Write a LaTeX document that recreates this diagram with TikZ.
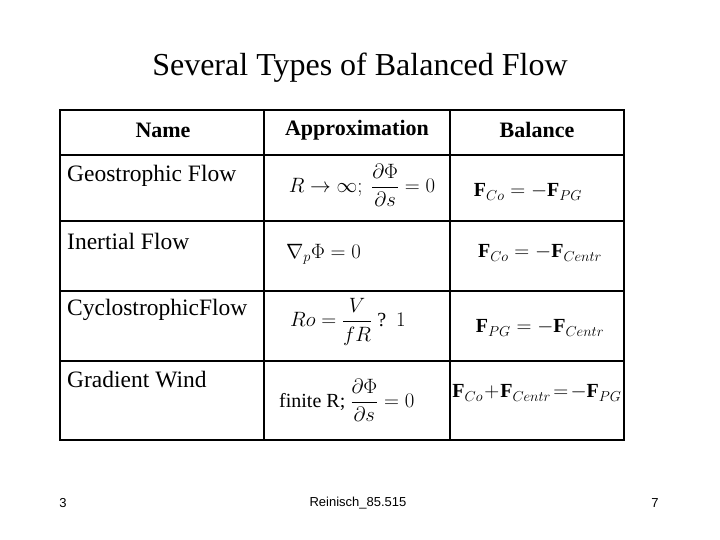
\documentclass[tikz,border=0pt]{standalone}
\usepackage{amsmath}
\usepackage{fontspec}
\setmainfont{Liberation Serif}
\newfontfamily\footf{Liberation Sans}
\begin{document}
\begin{tikzpicture}[x=1pt,y=-1pt,
  cell/.style={font=\fontsize{23.5}{26}\selectfont,inner sep=0pt},
  hdr/.style={font=\bfseries\fontsize{22}{26}\selectfont,inner sep=0pt},
  frm/.style={font=\fontsize{20}{24}\selectfont,inner sep=0pt},
  foot/.style={font=\footf\fontsize{13}{15}\selectfont,inner sep=0pt},
  grid/.style={line width=2.2pt}]
\useasboundingbox (0,0) rectangle (720,540);
\node[font=\fontsize{32}{36}\selectfont] (title) at (360,68) {Several Types of Balanced Flow};
\draw[grid] (60,110) rectangle (624,440);
\draw[grid] (264,110) -- (264,440) (450,110) -- (450,440);
\foreach \y in {155,221,291,361} \draw[grid] (60,\y) -- (624,\y);
\node[hdr] (h1) at (163,130) {Name};
\node[hdr] (h2) at (357,130) {Approximation};
\node[hdr] (h3) at (537,130) {Balance};
\node[cell,anchor=west] (n1) at (67,176) {Geostrophic Flow};
\node[cell,anchor=west] (n2) at (67,241) {Inertial Flow};
\node[cell,anchor=west] (n3) at (67,310) {CyclostrophicFlow};
\node[cell,anchor=west] (n4) at (67,380) {Gradient Wind};
\node[frm] (a1) at (362,185) {$R\to\infty;\ \dfrac{\partial\Phi}{\partial s}=0$};
\node[frm,anchor=west] (a2) at (286,254) {$\nabla_{p}\Phi=0$};
\node[frm,anchor=west] (a3) at (290,322) {$Ro=\dfrac{V}{fR}$\ ?\ \ $1$};
\node[frm,anchor=west] (a4) at (279,400) {finite R; $\dfrac{\partial\Phi}{\partial s}=0$};
\node[frm] (b1) at (528,192) {$\mathbf F_{Co}=-\mathbf F_{PG}$};
\node[frm] (b2) at (540,253) {$\mathbf F_{Co}=-\mathbf F_{Centr}$};
\node[frm] (b3) at (540,328) {$\mathbf F_{PG}=-\mathbf F_{Centr}$};
\node[frm] (b4) at (537,393) {$\mathbf F_{Co}\!+\!\mathbf F_{Centr}\!=\!-\mathbf F_{PG}$};
\node[foot] (f1) at (63,503) {3};
\node[foot] (f2) at (358,503) {Reinisch\_85.515};
\node[foot] (f3) at (655,503) {7};
\end{tikzpicture}
\end{document}
